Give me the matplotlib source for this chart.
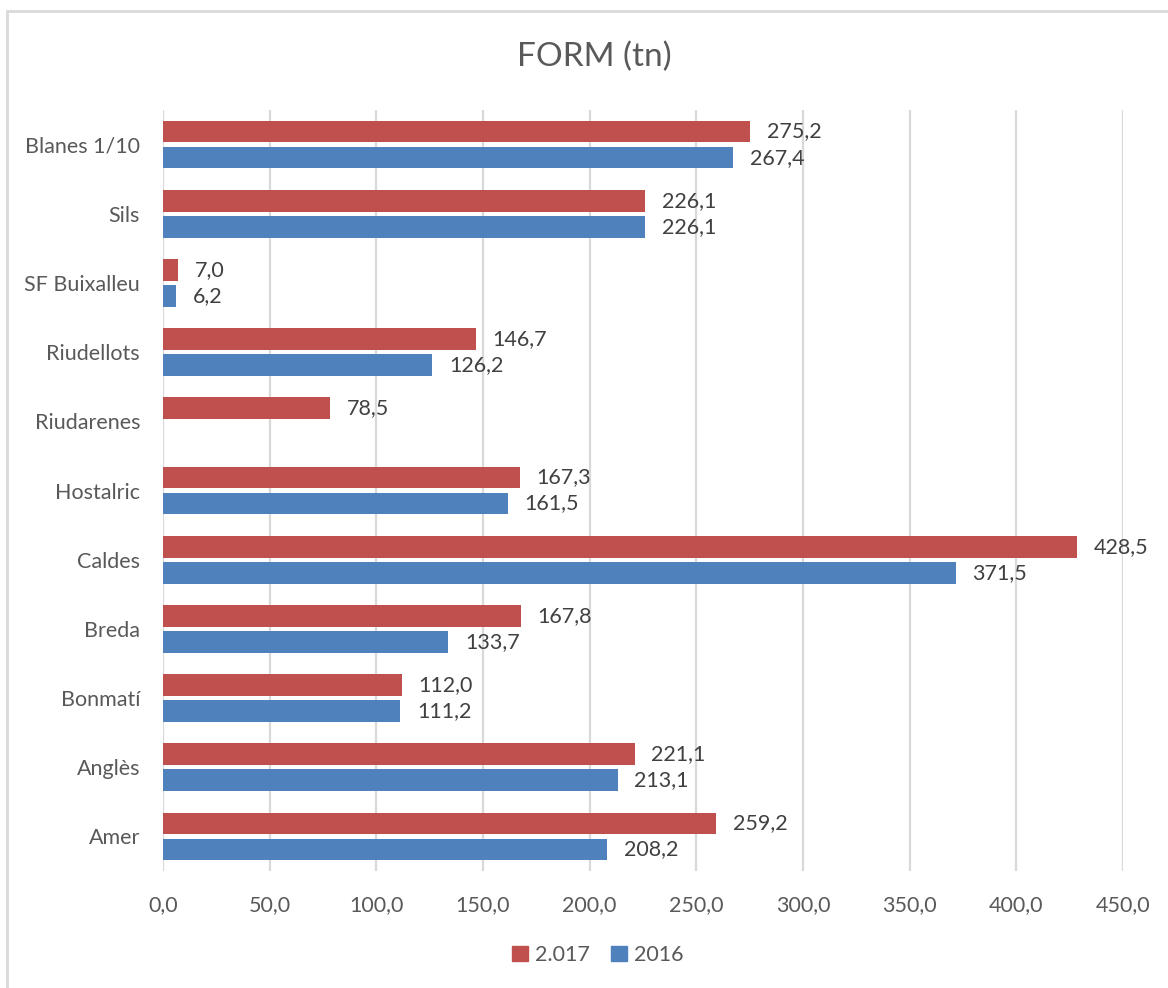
import matplotlib.pyplot as plt
from matplotlib.patches import Rectangle
from matplotlib.ticker import FuncFormatter
import numpy as np

plt.rcParams['font.family'] = ['Lato', 'DejaVu Sans']

# data, bottom to top as drawn
categories = ['Amer', 'Anglès', 'Bonmatí', 'Breda', 'Caldes', 'Hostalric',
              'Riudarenes', 'Riudellots', 'SF Buixalleu', 'Sils', 'Blanes 1/10']
values_2017 = [259.2, 221.1, 112.0, 167.8, 428.5, 167.3, 78.5, 146.7, 7.0, 226.1, 275.2]
values_2016 = [208.2, 213.1, 111.2, 133.7, 371.5, 161.5, None, 126.2, 6.2, 226.1, 267.4]
x_ticks = [0, 50, 100, 150, 200, 250, 300, 350, 400, 450]

red = '#C0504D'
blue = '#4F81BD'
text_col = '#595959'
label_col = '#404040'
grid_col = '#D9D9D9'

fig = plt.figure(figsize=(11.68, 9.88), dpi=100)
ax = fig.add_axes([163 / 1168, 1 - 871 / 988, (1123 - 163) / 1168, (871 - 110) / 988])

y = np.arange(len(categories))
h = 0.314
off = 0.188

v16 = [v if v is not None else 0 for v in values_2016]
bars17 = ax.barh(y + off, values_2017, height=h, color=red, label='2.017', zorder=3)
bars16 = ax.barh(y - off, v16, height=h, color=blue, label='2016', zorder=3)

def fmt(v):
    return f'{v:.1f}'.replace('.', ',')

for b, v in zip(bars17, values_2017):
    ax.annotate(fmt(v), (v, b.get_y() + b.get_height() / 2), xytext=(12, 0),
                textcoords='offset points', va='center', ha='left',
                fontsize=15.5, color=label_col, zorder=4)
for b, v in zip(bars16, values_2016):
    if v is None:
        continue
    ax.annotate(fmt(v), (v, b.get_y() + b.get_height() / 2), xytext=(12, 0),
                textcoords='offset points', va='center', ha='left',
                fontsize=15.5, color=label_col, zorder=4)

ax.set_xlim(0, 450)
ax.set_ylim(-0.5, len(categories) - 0.5)
ax.set_xticks(x_ticks)
ax.xaxis.set_major_formatter(FuncFormatter(lambda v, p: fmt(v)))
ax.set_yticks(y)
ax.set_yticklabels(categories)
ax.tick_params(axis='both', length=0, labelsize=15.5, labelcolor=text_col)
ax.tick_params(axis='x', pad=17.5)
ax.tick_params(axis='y', pad=16.5)
ax.grid(axis='x', color=grid_col, linewidth=1.6, zorder=0)
for s in ax.spines.values():
    s.set_visible(False)
ax.set_facecolor('none')

fig.text(594 / 1168, 1 - 57 / 988, 'FORM (tn)', ha='center', va='center',
         fontsize=24, color=text_col)

handles = [Rectangle((0, 0), 1, 1, color=red), Rectangle((0, 0), 1, 1, color=blue)]
fig.legend(handles, ['2.017', '2016'], loc='center', bbox_to_anchor=(598 / 1168, 1 - 955 / 988),
           ncol=2, frameon=False, fontsize=15.5, labelcolor=text_col,
           handlelength=0.7, handleheight=0.7, handletextpad=0.35, columnspacing=1.0)

# chart border
fig.patches.append(Rectangle((7 / 1168, -0.05), 1.1, 1 - 11 / 988 + 0.05,
                             transform=fig.transFigure, fill=False,
                             edgecolor=grid_col, linewidth=2))

fig.savefig('out.png', dpi=100)
